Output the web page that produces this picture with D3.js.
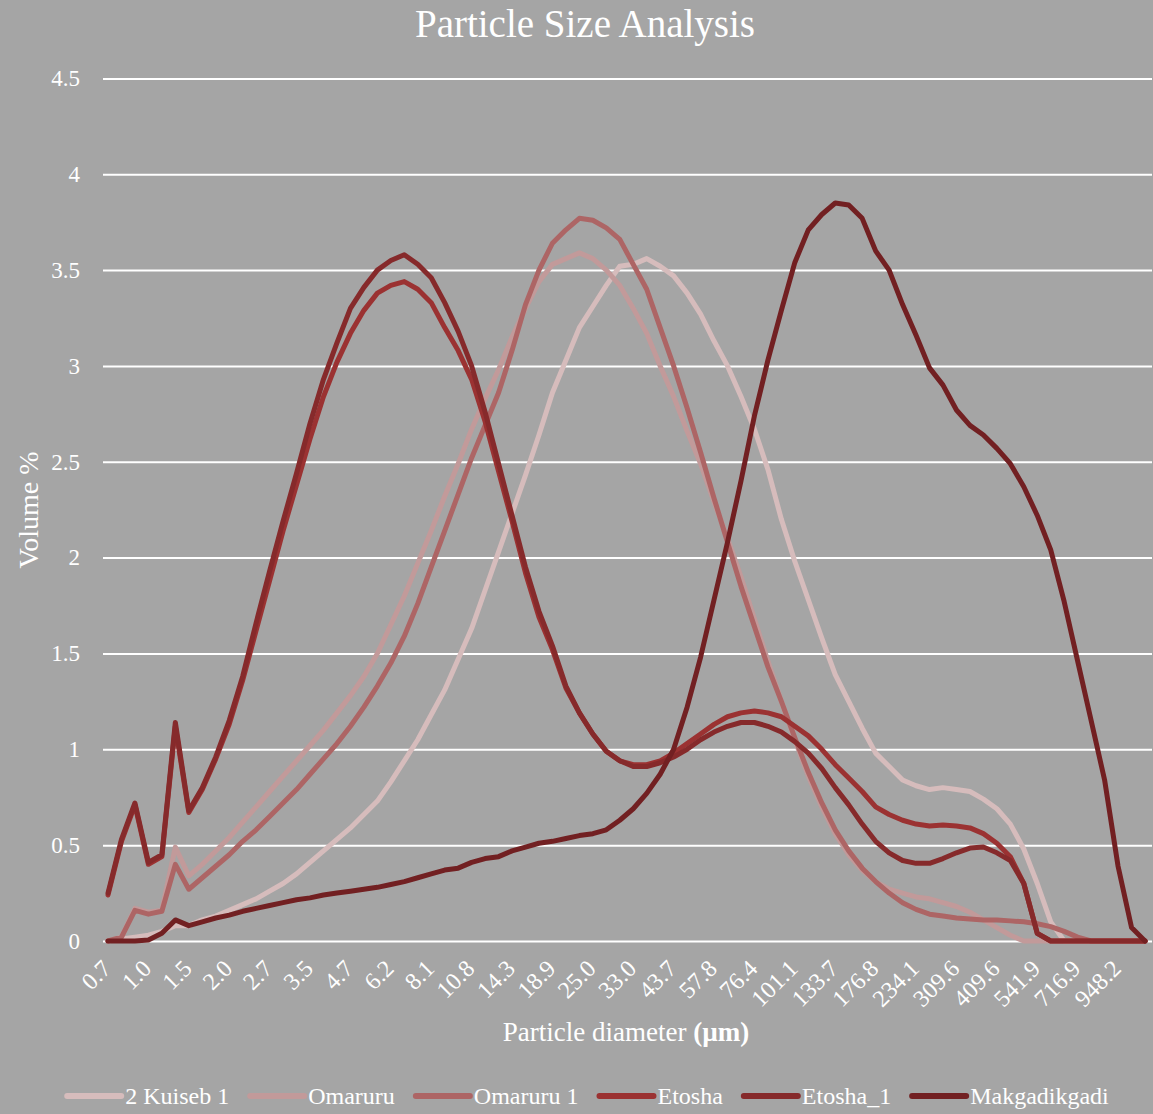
<!DOCTYPE html>
<html>
<head>
<meta charset="utf-8">
<title>Particle Size Analysis</title>
<script src="https://cdn.jsdelivr.net/npm/d3@7"></script>
<style>
  body { margin: 0; background: #a5a5a5; }
  svg { display: block; }
  text { font-family: "Liberation Serif", "Times New Roman", serif; fill: #ffffff; }
</style>
</head>
<body>
<svg id="chart" width="1153" height="1114"></svg>
<script>
// Particle diameter classes (µm); every third one is labelled on the axis
const categories = ["0.7","0.8","0.9","1.0","1.1","1.3","1.5","1.6","1.8","2.0","2.2","2.4","2.7","2.9","3.2","3.5","3.9","4.3","4.7","5.1","5.6","6.2","6.8","7.4","8.1","8.9","9.8","10.8","11.8","13.0","14.3","15.7","17.2","18.9","20.7","22.8","25.0","27.4","30.1","33.0","36.3","39.8","43.7","48.0","52.7","57.8","63.5","69.7","76.4","83.9","92.1","101.1","111.0","121.8","133.7","146.8","161.2","176.8","194.1","213.2","234.1","257.0","282.1","309.6","340.0","373.2","409.6","449.7","493.7","541.9","595.0","653.2","716.9","787.1","864.1","948.2","1041.0","1142.8"];

const yTicks = [0, 0.5, 1, 1.5, 2, 2.5, 3, 3.5, 4, 4.5];

const seriesNames = ["2 Kuiseb 1", "Omaruru", "Omaruru 1", "Etosha", "Etosha_1", "Makgadikgadi"];
const seriesColors = ["#d6bcbc", "#c29a9a", "#ad6565", "#9b3232", "#862a2b", "#722022"];

// Volume % per size class
const kuiseb1 = [0,0.01,0.02,0.03,0.05,0.08,0.08,0.11,0.13,0.16,0.19,0.22,0.26,0.30,0.35,
  0.41,0.47,0.53,0.59,0.66,0.73,0.83,0.94,1.05,1.18,1.31,1.47,1.63,1.83,2.03,2.23,2.43,2.64,2.86,3.03,
  3.20,3.31,3.42,3.52,3.53,3.56,3.52,3.47,3.38,3.27,3.13,3.00,2.84,2.67,2.46,2.20,1.98,1.78,1.58,1.39,
  1.25,1.11,0.98,0.91,0.84,0.81,0.79,0.80,0.79,0.78,0.74,0.69,0.61,0.48,0.30,0.10,
  0,0,0,0,0,0,0];

const omaruru = [0,0.02,0.17,0.15,0.16,0.49,0.34,0.40,0.47,0.54,0.62,0.70,0.78,0.86,0.94,1.02,1.10,
  1.19,1.28,1.38,1.50,1.65,1.80,1.97,2.14,2.32,2.49,2.67,2.83,2.98,3.15,3.30,3.44,3.53,3.56,3.59,3.56,
  3.50,3.42,3.30,3.17,3.00,2.84,2.66,2.49,2.29,2.10,1.90,1.68,1.46,1.25,1.05,0.86,0.70,0.56,0.45,0.37,
  0.31,0.27,0.25,0.23,0.22,0.20,0.18,0.15,0.11,0.07,0.03,0,
  0,0,0,0,0,0,0,0,0];

const omaruru1 = [0,0.02,0.16,0.14,0.155,0.40,0.27,
  0.33,0.39,0.45,0.52,0.58,0.65,0.72,0.79,0.87,0.95,
  1.03,1.12,1.22,1.33,1.45,1.59,1.76,1.95,2.14,2.33,
  2.52,2.69,2.86,3.08,3.32,3.50,3.64,3.71,3.77,3.76,
  3.72,3.66,3.53,3.40,3.20,3.00,2.78,2.55,2.31,2.08,
  1.85,1.64,1.43,1.25,1.06,0.88,0.72,0.58,0.47,0.38,
  0.31,0.25,0.20,0.165,0.14,0.13,0.12,0.115,0.11,0.11,
  0.105,0.10,0.09,0.075,0.05,0.02,
  0,0,0,0,0];

const etosha = [0.24,0.52,0.71,0.40,0.44,1.12,0.67,0.79,0.95,
  1.13,1.36,1.62,1.88,2.14,2.38,2.62,2.84,3.02,3.17,3.29,3.38,3.42,3.44,3.40,3.33,3.20,
  3.08,2.93,2.71,2.45,2.19,1.92,1.69,1.52,1.32,1.19,1.08,0.99,0.94,0.92,0.92,0.94,
  0.98,1.03,1.08,1.13,1.17,1.19,1.20,1.19,1.17,
  1.12,1.07,1.00,0.92,0.85,0.78,0.70,0.66,0.63,0.61,0.60,0.605,0.60,0.59,0.56,0.51,0.44,0.30,0.04,
  0,0,0,0,0,0,0,0];

const etosha1 = [0.25,0.53,0.72,0.41,0.45,1.14,0.68,0.80,0.96,
  1.15,1.38,1.66,1.93,2.19,2.44,2.70,2.93,3.12,3.30,3.41,3.50,3.55,3.58,3.53,3.46,3.33,
  3.18,3.00,2.76,2.49,2.22,1.95,1.72,1.54,1.33,1.19,1.08,0.99,0.94,0.91,0.91,0.93,
  0.96,1.00,1.05,1.09,1.12,1.14,1.14,1.12,1.09,
  1.04,0.98,0.90,0.80,0.71,0.61,0.52,0.46,0.42,0.405,0.405,0.43,0.46,0.485,0.49,0.46,0.42,0.30,0.04,
  0,0,0,0,0,0,0,0];

const makgadikgadi = [0,0,0,0.005,0.04,0.11,0.08,0.10,0.12,0.135,0.155,0.17,0.185,0.20,0.215,0.225,0.24,0.25,
  0.26,0.27,0.28,0.295,0.31,0.33,0.35,0.37,0.38,0.41,0.43,0.44,0.47,0.49,0.51,0.52,0.535,0.55,0.56,0.58,0.63,0.69,0.77,0.87,1.00,1.22,
  1.48,1.78,2.08,2.40,2.74,3.03,3.29,3.54,3.71,3.79,
  3.85,3.84,3.77,3.60,3.50,3.32,3.16,2.99,2.90,2.77,
  2.69,2.64,2.57,2.49,2.37,2.22,2.04,1.77,1.46,1.15,
  0.84,0.39,0.07,0];

const seriesValues = [kuiseb1, omaruru, omaruru1, etosha, etosha1, makgadikgadi];

const W = 1153, H = 1114;
const plotLeft = 103, plotRight = 1152;
const svg = d3.select("#chart");

svg.append("rect").attr("width", W).attr("height", H).attr("fill", "#a5a5a5");

const x = d3.scalePoint().domain(categories).range([108, 1145]);
const y = d3.scaleLinear().domain([0, 4.5]).range([941, 78.4]);

// Horizontal gridlines with value labels
const yAxis = svg.append("g")
  .attr("transform", `translate(${plotLeft},0)`)
  .call(d3.axisLeft(y).tickValues(yTicks).tickSize(-(plotRight - plotLeft)).tickPadding(23).tickFormat(d => String(d)));
yAxis.select(".domain").remove();
yAxis.selectAll(".tick line").attr("stroke", "#ffffff").attr("stroke-width", 2);
yAxis.selectAll(".tick text")
  .attr("fill", "#ffffff")
  .style("font-family", '"Liberation Serif", serif')
  .style("font-size", "23px");

// Category axis: every third size class, rotated labels
const xAxis = svg.append("g")
  .attr("transform", "translate(0,941)")
  .call(d3.axisBottom(x).tickValues(categories.filter((d, i) => i % 3 === 0)).tickSize(0));
xAxis.select(".domain").remove();
xAxis.selectAll(".tick text")
  .attr("fill", "#ffffff")
  .attr("x", 0).attr("y", 0)
  .attr("dy", "0.35em")
  .attr("text-anchor", "end")
  .attr("transform", "translate(-2,23) rotate(-45)")
  .style("font-family", '"Liberation Serif", serif')
  .style("font-size", "24px");

// Series lines
const line = d3.line()
  .x((d, i) => x(categories[i]))
  .y(d => y(d));

svg.append("g").selectAll("path")
  .data(seriesValues)
  .join("path")
  .attr("d", d => line(d))
  .attr("fill", "none")
  .attr("stroke", (d, i) => seriesColors[i])
  .attr("stroke-width", 5)
  .attr("stroke-linejoin", "round")
  .attr("stroke-linecap", "round");

// Title
svg.append("text")
  .attr("x", 585).attr("y", 37)
  .attr("text-anchor", "middle")
  .style("font-size", "39px")
  .text("Particle Size Analysis");

// Axis titles
svg.append("text")
  .attr("transform", "translate(38,510) rotate(-90)")
  .attr("text-anchor", "middle")
  .style("font-size", "28px")
  .text("Volume %");

const xt = svg.append("text")
  .attr("x", 626).attr("y", 1041)
  .attr("text-anchor", "middle")
  .style("font-size", "27px");
xt.append("tspan").text("Particle diameter ");
xt.append("tspan").style("font-weight", "bold").text("(µm)");

// Legend
const legend = svg.append("g");
let lx = 0;
seriesNames.forEach((name, i) => {
  const g = legend.append("g").attr("transform", `translate(${lx},0)`);
  g.append("line")
    .attr("x1", 0).attr("x2", 54).attr("y1", 0).attr("y2", 0)
    .attr("stroke", seriesColors[i]).attr("stroke-width", 6).attr("stroke-linecap", "round");
  const t = g.append("text")
    .attr("x", 58).attr("y", 0).attr("dy", "0.35em")
    .style("font-size", "24px")
    .text(name);
  lx += 58 + t.node().getComputedTextLength() + 21;
});
const legendWidth = lx - 21;
legend.attr("transform", `translate(${588 - legendWidth / 2},1096)`);
</script>
</body>
</html>
